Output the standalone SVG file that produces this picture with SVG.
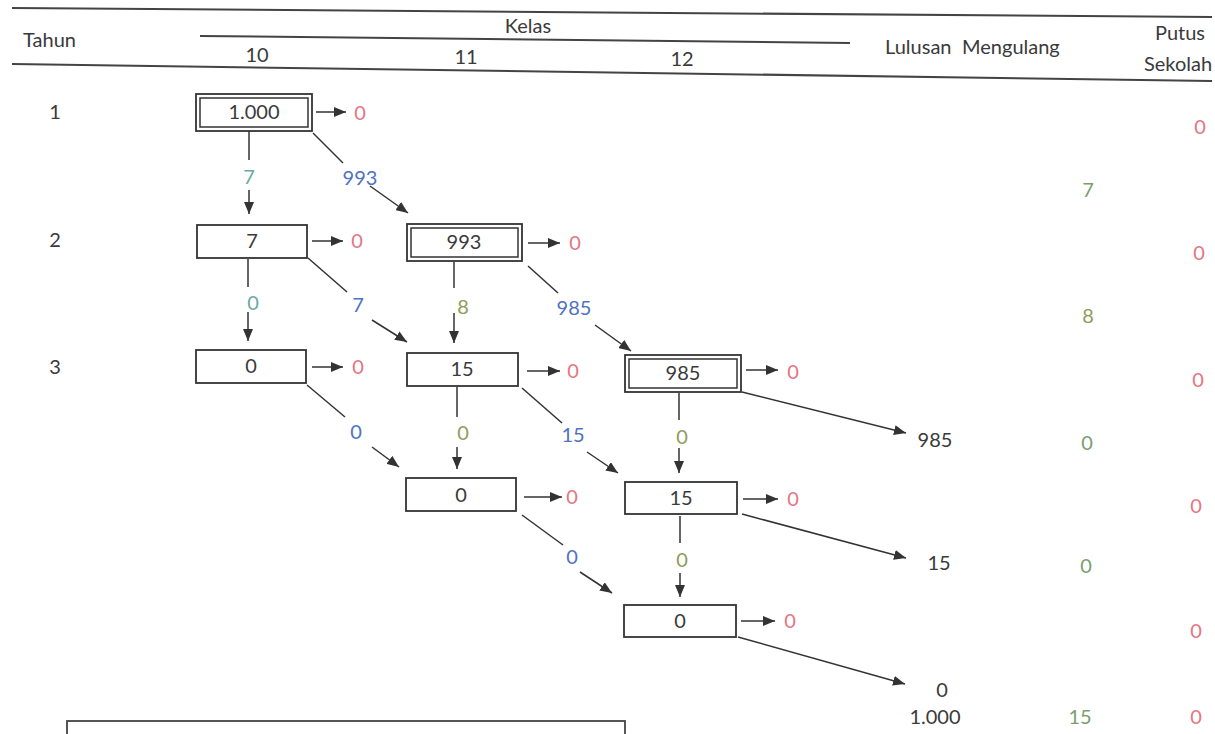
<svg xmlns="http://www.w3.org/2000/svg" width="1215" height="734" viewBox="0 0 1215 734">
<defs>
<marker id="ah" markerUnits="userSpaceOnUse" markerWidth="12" markerHeight="10" viewBox="0 0 12 10" refX="12" refY="5" orient="auto">
<path d="M0,0 L12,5 L0,10 z" fill="#333"/>
</marker>
<style>
text{font-family:Lato,"Open Sans","Liberation Sans",sans-serif;font-size:20px;fill:#3a3a3a}
.c{text-anchor:middle}
.box{fill:#fff;stroke:#333;stroke-width:1.8}
.in{fill:none;stroke:#333;stroke-width:1.5}
.ln{stroke:#333;stroke-width:1.5;fill:none}
.ar{stroke:#333;stroke-width:1.5;fill:none;marker-end:url(#ah)}
.hd{stroke:#444;stroke-width:2;fill:none}
.red{fill:#e57584}
.blue{fill:#4f72c2}
.teal{fill:#6aaaa4}
.olive{fill:#8f9c5c}
.green{fill:#7a9e70}
</style>
</defs>
<rect width="1215" height="734" fill="#fff"/>

<g id="header">
<line class="hd" x1="12" y1="8" x2="1212" y2="17"/>
<line class="hd" x1="200" y1="36" x2="850" y2="43"/>
<line class="hd" x1="12" y1="64" x2="1212" y2="81"/>
<text x="23" y="47">Tahun</text>
<text x="528" y="33" class="c">Kelas</text>
<text x="257" y="62" class="c">10</text>
<text x="466" y="64" class="c">11</text>
<text x="682" y="66" class="c">12</text>
<text x="885" y="54">Lulusan</text>
<text x="962" y="54">Mengulang</text>
<text x="1180" y="40" class="c">Putus</text>
<text x="1178" y="71" class="c">Sekolah</text>
</g>

<g id="rows">
<text x="55" y="119" class="c">1</text>
<text x="55" y="247" class="c">2</text>
<text x="55" y="374" class="c">3</text>
</g>

<g id="connectors">
<line class="ar" x1="316" y1="112" x2="346" y2="112"/>
<line class="ar" x1="312" y1="241" x2="343" y2="241"/>
<line class="ar" x1="528" y1="243" x2="560" y2="243"/>
<line class="ar" x1="312" y1="367" x2="343" y2="367"/>
<line class="ar" x1="527" y1="371" x2="560" y2="371"/>
<line class="ar" x1="746" y1="370" x2="778" y2="370"/>
<line class="ar" x1="524" y1="497" x2="562" y2="497"/>
<line class="ar" x1="743" y1="499" x2="778" y2="499"/>
<line class="ar" x1="741" y1="621" x2="775" y2="621"/>
<line class="ln" x1="249" y1="131" x2="249" y2="160"/>
<line class="ar" x1="249" y1="190" x2="249" y2="214"/>
<line class="ln" x1="248" y1="259" x2="248" y2="287"/>
<line class="ar" x1="248" y1="312" x2="248" y2="341"/>
<line class="ln" x1="454" y1="262" x2="454" y2="288"/>
<line class="ar" x1="454" y1="313" x2="454" y2="343"/>
<line class="ln" x1="457" y1="387" x2="457" y2="417"/>
<line class="ar" x1="457" y1="447" x2="457" y2="469"/>
<line class="ln" x1="679" y1="393" x2="679" y2="420"/>
<line class="ar" x1="679" y1="448" x2="679" y2="473"/>
<line class="ln" x1="680" y1="516" x2="680" y2="543"/>
<line class="ar" x1="680" y1="573" x2="680" y2="597"/>
<line class="ln" x1="313" y1="133" x2="343" y2="163"/>
<line class="ar" x1="370" y1="186" x2="408" y2="213"/>
<line class="ln" x1="308" y1="258" x2="347" y2="292"/>
<line class="ar" x1="372" y1="320" x2="407" y2="342"/>
<line class="ln" x1="528" y1="266" x2="558" y2="293"/>
<line class="ar" x1="595" y1="325" x2="631" y2="351"/>
<line class="ln" x1="307" y1="385" x2="345" y2="417"/>
<line class="ar" x1="372" y1="447" x2="399" y2="467"/>
<line class="ln" x1="522" y1="388" x2="562" y2="423"/>
<line class="ar" x1="587" y1="452" x2="618" y2="473"/>
<line class="ln" x1="522" y1="515" x2="563" y2="545"/>
<line class="ar" x1="580" y1="572" x2="612" y2="593"/>
<line class="ar" x1="742" y1="392" x2="906" y2="433"/>
<line class="ar" x1="742" y1="514" x2="906" y2="558"/>
<line class="ar" x1="738" y1="637" x2="905" y2="684"/>
</g>

<g id="connector-labels">
<text x="249" y="184" class="c teal">7</text>
<text x="360" y="185" class="c blue">993</text>
<text x="253" y="310" class="c teal">0</text>
<text x="358" y="312" class="c blue">7</text>
<text x="463" y="314" class="c olive">8</text>
<text x="574" y="315" class="c blue">985</text>
<text x="356" y="439" class="c blue">0</text>
<text x="463" y="440" class="c olive">0</text>
<text x="573" y="442" class="c blue">15</text>
<text x="682" y="444" class="c olive">0</text>
<text x="572" y="564" class="c blue">0</text>
<text x="682" y="567" class="c olive">0</text>
<text x="360" y="120" class="c red">0</text>
<text x="357" y="248" class="c red">0</text>
<text x="575" y="250" class="c red">0</text>
<text x="358" y="374" class="c red">0</text>
<text x="573" y="378" class="c red">0</text>
<text x="793" y="379" class="c red">0</text>
<text x="572" y="504" class="c red">0</text>
<text x="793" y="506" class="c red">0</text>
<text x="790" y="628" class="c red">0</text>
</g>

<g id="n-1-10">
<rect class="box" x="196" y="94" width="116" height="37"/>
<rect class="in" x="200" y="98" width="108" height="29"/>
<text x="254" y="119" class="c">1.000</text>
</g>
<g id="n-2-10">
<rect class="box" x="197" y="225" width="110" height="33"/>
<text x="252" y="248" class="c">7</text>
</g>
<g id="n-2-11">
<rect class="box" x="407" y="224" width="115" height="37"/>
<rect class="in" x="411" y="228" width="107" height="29"/>
<text x="464" y="249" class="c">993</text>
</g>
<g id="n-3-10">
<rect class="box" x="196" y="350" width="110" height="33"/>
<text x="251" y="373" class="c">0</text>
</g>
<g id="n-3-11">
<rect class="box" x="407" y="353" width="111" height="33"/>
<text x="462" y="376" class="c">15</text>
</g>
<g id="n-3-12">
<rect class="box" x="625" y="355" width="116" height="37"/>
<rect class="in" x="629" y="359" width="108" height="29"/>
<text x="683" y="380" class="c">985</text>
</g>
<g id="n-4-11">
<rect class="box" x="406" y="478" width="110" height="33"/>
<text x="461" y="502" class="c">0</text>
</g>
<g id="n-4-12">
<rect class="box" x="625" y="482" width="112" height="32"/>
<text x="681" y="505" class="c">15</text>
</g>
<g id="n-5-12">
<rect class="box" x="624" y="605" width="112" height="32"/>
<text x="680" y="628" class="c">0</text>
</g>

<g id="lulusan">
<text x="935" y="447" class="c">985</text>
<text x="939" y="570" class="c">15</text>
<text x="942" y="697" class="c">0</text>
<text x="935" y="724" class="c">1.000</text>
</g>
<g id="mengulang">
<text x="1088" y="197" class="c green">7</text>
<text x="1088" y="323" class="c olive">8</text>
<text x="1087" y="450" class="c green">0</text>
<text x="1086" y="573" class="c green">0</text>
<text x="1080" y="724" class="c green">15</text>
</g>
<g id="putus">
<text x="1200" y="134" class="c red">0</text>
<text x="1199" y="260" class="c red">0</text>
<text x="1198" y="387" class="c red">0</text>
<text x="1196" y="513" class="c red">0</text>
<text x="1196" y="638" class="c red">0</text>
<text x="1196" y="724" class="c red">0</text>
</g>

<g id="bottom-box">
<rect x="67" y="721" width="558" height="30" fill="none" stroke="#444" stroke-width="1.8"/>
</g>
</svg>
